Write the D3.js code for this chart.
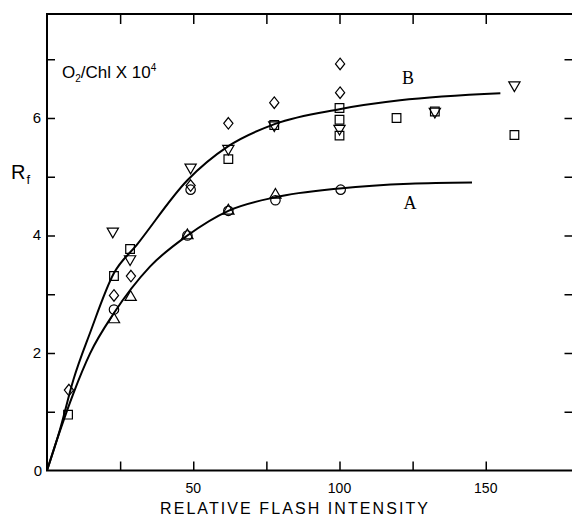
<!DOCTYPE html>
<html>
<head>
<meta charset="utf-8">
<script src="https://cdn.jsdelivr.net/npm/d3@7"></script>
<style>
  body { margin: 0; background: #fff; }
  svg { display: block; font-family: "Liberation Sans", Arial, sans-serif; }
</style>
</head>
<body>
<div class="chart"></div>
<script>
// curve traces
const curveA = [[0, 0], [4.4, 0.67], [9, 1.31], [14.7, 1.99], [22.9, 2.68], [35.2, 3.47], [48, 4.0], [62, 4.42], [78, 4.65], [100, 4.8], [124, 4.88], [145.3, 4.9]];
const curveB = [[0, 0], [4.4, 0.69], [9, 1.54], [14.7, 2.34], [22.9, 3.36], [30.7, 3.84], [48, 4.94], [62, 5.52], [78, 5.9], [100, 6.15], [120.7, 6.3], [155, 6.42]];

// measured points by symbol
const diamonds = [[7.5, 1.37], [22.9, 2.98], [28.7, 3.31], [49.1, 4.85], [62, 5.91], [77.7, 6.26], [100.2, 6.92], [100.2, 6.43]];
const squares = [[7.2, 0.95], [22.9, 3.31], [28.4, 3.77], [62, 5.3], [77.7, 5.88], [100, 6.17], [100, 5.97], [100, 5.7], [119.5, 6.0], [132.6, 6.11], [159.8, 5.71]];
const trianglesDown = [[22.5, 4.07], [28.4, 3.6], [49.1, 5.16], [62, 5.48], [77.7, 5.88], [100, 5.82], [132.6, 6.11], [159.8, 6.56]];
const trianglesUp = [[22.9, 2.57], [28.6, 2.95], [48, 4.0], [62, 4.42], [78.1, 4.69]];
const circles = [[22.9, 2.74], [49.1, 4.78], [48, 4.0], [62, 4.42], [78.1, 4.6], [100.4, 4.78]];

const xTicksMajor = [50, 100, 150];
const xTicksMinor = [25, 50, 75, 100, 125, 150];
const yTicksLabel = [0, 2, 4, 6];
const yTicksAll = [1, 2, 3, 4, 5, 6, 7];

const svgWidth = 572;
const svgHeight = 517;
const plotLeft = 47, plotRight = 573.5, plotTop = 14, plotBottom = 470.5;

const svg = d3.select('.chart')
    .append('svg')
    .attr('width', svgWidth)
    .attr('height', svgHeight);

const x = d3.scaleLinear().domain([0, 180]).range([plotLeft, plotRight]);
const y = d3.scaleLinear().domain([0, 7.77]).range([plotBottom, plotTop]);

// frame
svg.append('rect')
    .attr('x', plotLeft).attr('y', plotTop)
    .attr('width', plotRight - plotLeft).attr('height', plotBottom - plotTop)
    .attr('fill', 'none').attr('stroke', '#000').attr('stroke-width', 2);

// ticks pointing inward on all four sides
svg.append('g')
    .attr('transform', `translate(0,${plotBottom})`)
    .call(d3.axisTop(x).tickValues(xTicksMinor).tickSize(9).tickFormat(''))
    .call(g => g.select('.domain').remove())
    .selectAll('line').attr('stroke-width', 1.5);

svg.append('g')
    .attr('transform', `translate(0,${plotTop})`)
    .call(d3.axisBottom(x).tickValues(xTicksMinor).tickSize(10).tickFormat(''))
    .call(g => g.select('.domain').remove())
    .selectAll('line').attr('stroke-width', 1.5);

svg.append('g')
    .attr('transform', `translate(${plotLeft},0)`)
    .call(d3.axisRight(y).tickValues(yTicksAll).tickSize(8).tickFormat(''))
    .call(g => g.select('.domain').remove())
    .selectAll('line').attr('stroke-width', 1.5);

svg.append('g')
    .attr('transform', `translate(${plotRight},0)`)
    .call(d3.axisLeft(y).tickValues(yTicksAll).tickSize(9).tickFormat(''))
    .call(g => g.select('.domain').remove())
    .selectAll('line').attr('stroke-width', 1.5);

// tick labels
svg.selectAll('.xlab')
    .data(xTicksMajor)
    .enter()
    .append('text')
    .attr('x', d => x(d))
    .attr('y', 493)
    .attr('text-anchor', 'middle')
    .style('font-size', '14px')
    .text(d => d);

svg.selectAll('.ylab')
    .data(yTicksLabel)
    .enter()
    .append('text')
    .attr('x', d => d === 0 ? 42 : 41)
    .attr('y', d => y(d) + 5)
    .attr('text-anchor', 'end')
    .style('font-size', '15px')
    .text(d => d);

// axis titles
svg.append('text')
    .attr('x', 160)
    .attr('y', 513.5)
    .attr('textLength', 268)
    .attr('lengthAdjust', 'spacing')
    .style('font-size', '16px')
    .text('RELATIVE FLASH INTENSITY');

const rf = svg.append('text')
    .attr('x', 11)
    .attr('y', 178.5)
    .style('font-size', '20px');
rf.append('tspan').text('R');
rf.append('tspan').attr('dx', 1).attr('dy', 5).style('font-size', '13px').text('f');

const unit = svg.append('text')
    .attr('x', 62)
    .attr('y', 78)
    .style('font-size', '17px');
unit.append('tspan').text('O');
unit.append('tspan').attr('dy', 4).style('font-size', '10px').text('2');
unit.append('tspan').attr('dy', -4).text('/Chl X 10');
unit.append('tspan').attr('dy', -7).style('font-size', '10px').text('4');

// fitted curves
const line = d3.line()
    .x(d => x(d[0]))
    .y(d => y(d[1]))
    .curve(d3.curveMonotoneX);

svg.selectAll('.curve')
    .data([curveA, curveB])
    .enter()
    .append('path')
    .attr('class', 'curve')
    .attr('d', line)
    .attr('fill', 'none')
    .attr('stroke', '#000')
    .attr('stroke-width', 2);

svg.append('text')
    .attr('x', 408).attr('y', 84)
    .attr('text-anchor', 'middle')
    .style('font-family', '"Liberation Serif", serif')
    .style('font-size', '18px')
    .text('B');

svg.append('text')
    .attr('x', 410).attr('y', 209)
    .attr('text-anchor', 'middle')
    .style('font-family', '"Liberation Serif", serif')
    .style('font-size', '18px')
    .text('A');

// squat diamond, the d3 one is too tall for this figure
const diamondShape = {
    draw(ctx, size) {
        const w = Math.sqrt(size) * 0.55, h = w * 1.25;
        ctx.moveTo(0, -h);
        ctx.lineTo(w, 0);
        ctx.lineTo(0, h);
        ctx.lineTo(-w, 0);
        ctx.closePath();
    }
};

// open symbols
const drawSymbols = (data, type, size, rotate) => {
    svg.append('g')
        .selectAll('path')
        .data(data)
        .enter()
        .append('path')
        .attr('d', d3.symbol().type(type).size(size))
        .attr('transform', d => `translate(${x(d[0])},${y(d[1])}) rotate(${rotate})`)
        .attr('fill', 'none')
        .attr('stroke', '#000')
        .attr('stroke-width', 1.2);
};

drawSymbols(diamonds, diamondShape, 70, 0);
drawSymbols(squares, d3.symbolSquare, 75, 0);
drawSymbols(trianglesDown, d3.symbolTriangle, 55, 180);
drawSymbols(trianglesUp, d3.symbolTriangle, 55, 0);
drawSymbols(circles, d3.symbolCircle, 70, 0);
</script>
</body>
</html>
